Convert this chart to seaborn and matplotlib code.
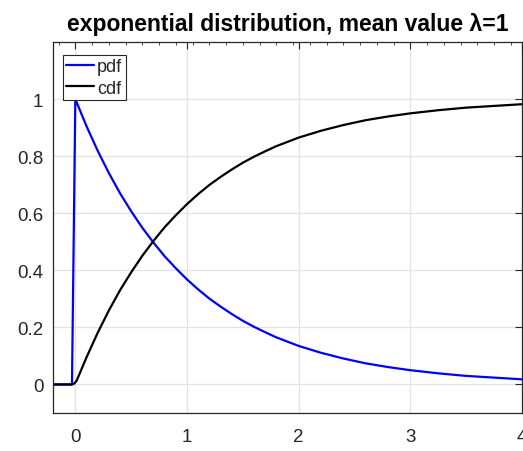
import matplotlib
matplotlib.use("Agg")
import matplotlib.pyplot as plt
from matplotlib.ticker import MultipleLocator
import seaborn as sns

# data
x_vals = [-0.2, -0.03, 0.0, 0.1, 0.2, 0.3, 0.4, 0.5, 0.6, 0.7, 0.8, 0.9, 1.0,
          1.1, 1.2, 1.3, 1.4, 1.5, 1.6, 1.7, 1.8, 1.9, 2.0, 2.2, 2.4, 2.6,
          2.8, 3.0, 3.25, 3.5, 3.75, 4.0]
pdf_vals = [0.0, 0.0, 1.0, 0.905, 0.819, 0.741, 0.670, 0.607, 0.549, 0.497,
            0.449, 0.407, 0.368, 0.333, 0.301, 0.273, 0.247, 0.223, 0.202,
            0.183, 0.165, 0.150, 0.135, 0.111, 0.091, 0.074, 0.061, 0.050,
            0.039, 0.030, 0.024, 0.018]
cdf_x = [-0.2, -0.03, -0.01, 0.01, 0.03, 0.1, 0.2, 0.3, 0.4, 0.5, 0.6, 0.7,
         0.8, 0.9, 1.0, 1.1, 1.2, 1.3, 1.4, 1.5, 1.6, 1.7, 1.8, 1.9, 2.0,
         2.2, 2.4, 2.6, 2.8, 3.0, 3.25, 3.5, 3.75, 4.0]
cdf_vals = [0.0, 0.0, 0.003, 0.012, 0.030, 0.095, 0.181, 0.259, 0.330, 0.393,
            0.451, 0.503, 0.551, 0.593, 0.632, 0.667, 0.699, 0.727, 0.753,
            0.777, 0.798, 0.817, 0.835, 0.850, 0.865, 0.889, 0.909, 0.926,
            0.939, 0.950, 0.961, 0.970, 0.976, 0.982]
x_ticks = [0, 1, 2, 3, 4]
y_ticks = [0, 0.2, 0.4, 0.6, 0.8, 1]
y_tick_labels = ["0", "0.2", "0.4", "0.6", "0.8", "1"]
title = "exponential distribution, mean value λ=1"

sns.set_style("white")
plt.rcParams['font.family'] = ['Liberation Sans', 'DejaVu Sans']

fig = plt.figure(figsize=(5.23, 4.52), dpi=100)
ax = fig.add_axes([53/523, 38/452, 469/523, 371/452])

sns.lineplot(x=x_vals, y=pdf_vals, ax=ax, color='#0000ff', lw=1.6,
             label='pdf', estimator=None, sort=False)
sns.lineplot(x=cdf_x, y=cdf_vals, ax=ax, color='black', lw=1.6,
             label='cdf', estimator=None, sort=False)

ax.set_xlim(-0.2, 4)
ax.set_ylim(-0.1, 1.2)
ax.set_xticks(x_ticks)
ax.set_xticklabels([str(t) for t in x_ticks])
ax.set_yticks(y_ticks)
ax.set_yticklabels(y_tick_labels)
ax.xaxis.set_minor_locator(MultipleLocator(0.15))
ax.grid(True, which='major', color='#e3e3e3', lw=0.9)
ax.set_axisbelow(True)
ax.tick_params(which='both', direction='in', top=True, right=True,
               colors='#262626', labelsize=13.5)
ax.tick_params(axis='y', pad=7)
ax.tick_params(axis='x', pad=11)
ax.tick_params(which='major', length=5, width=0.8)
ax.tick_params(which='minor', length=2.5, width=0.6)
for lab in ax.get_xticklabels() + ax.get_yticklabels():
    lab.set_color('#262626')
for s in ax.spines.values():
    s.set_color('#262626')
    s.set_linewidth(0.9)
ax.set_xlabel('')
ax.set_ylabel('')

ax.set_title(title, fontsize=16.5, fontweight='bold', pad=9, color='black')

leg = ax.legend(loc='upper left', bbox_to_anchor=(0.021, 0.966),
                borderaxespad=0, frameon=True, fancybox=False,
                edgecolor='#262626', framealpha=1, fontsize=13,
                handlelength=1.5, handletextpad=0.2, borderpad=0.2,
                labelspacing=0.25)
leg.get_frame().set_linewidth(0.8)

fig.savefig('out.png', dpi=100)
